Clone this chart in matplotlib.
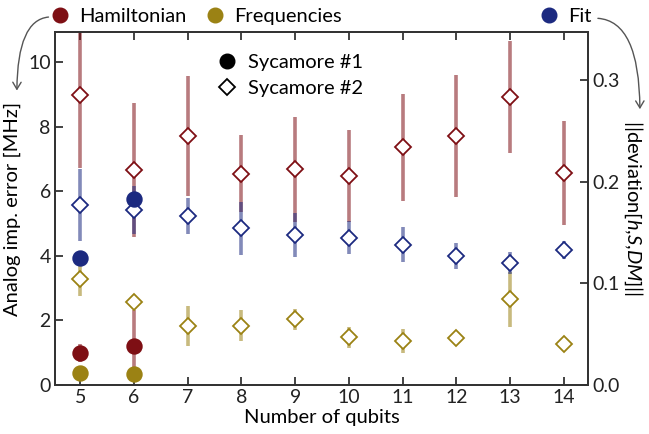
import numpy as np
import matplotlib
matplotlib.use("Agg")
import matplotlib.pyplot as plt
from matplotlib.lines import Line2D
from matplotlib.patches import FancyArrowPatch

plt.rcParams["font.family"] = ["Lato", "DejaVu Sans"]
plt.rcParams["mathtext.fontset"] = "custom"
plt.rcParams["mathtext.it"] = "Lato:italic"
plt.rcParams["mathtext.rm"] = "Lato"

# Sycamore #1 (filled circles)
s1_qubits = [5, 6]
s1_ham = [0.98, 1.22]
s1_ham_err = [0.28, 1.10]
s1_freq = [0.36, 0.33]
s1_freq_err = [0.0, 0.0]
s1_fit = [0.125, 0.183]
s1_fit_err = [0.0, 0.0]

# Sycamore #2 (open diamonds)
s2_qubits = [5, 6, 7, 8, 9, 10, 11, 12, 13, 14]
s2_ham = [8.98, 6.66, 7.72, 6.55, 6.68, 6.47, 7.36, 7.71, 8.93, 6.57]
s2_ham_err = [2.25, 2.08, 1.86, 1.20, 1.62, 1.42, 1.65, 1.90, 1.74, 1.60]
s2_freq = [3.27, 2.56, 1.84, 1.83, 2.03, 1.48, 1.36, 1.45, 2.65, 1.26]
s2_freq_err = [0.50, 0.0, 0.62, 0.48, 0.33, 0.33, 0.38, 0.10, 0.85, 0.0]
s2_fit = [0.177, 0.172, 0.166, 0.154, 0.1475, 0.145, 0.138, 0.127, 0.1197, 0.1327]
s2_fit_err = [0.035, 0.024, 0.018, 0.026, 0.022, 0.016, 0.017, 0.013, 0.011, 0.009]

c_ham = "#7e0f14"
c_freq = "#9b8214"
c_fit = "#1c2a80"
err_alpha = 0.55
fs = 14.5

fig = plt.figure(figsize=(6.49, 4.34), dpi=100)
ax = fig.add_axes([0.0847, 0.113, 0.8213, 0.813])
ax2 = ax.twinx()

circ_ms = 10.5
diam_ms = 8.2


def draw(axis, x, y, err, color, marker, filled):
    axis.errorbar(x, y, yerr=err, fmt="none", ecolor=color, elinewidth=2.6,
                  alpha=err_alpha, capsize=0, zorder=2)
    axis.plot(x, y, linestyle="none", marker=marker,
              ms=circ_ms if marker == "o" else diam_ms,
              mfc=color if filled else "white", mec=color, mew=1.3, zorder=3)


draw(ax, s2_qubits, s2_ham, s2_ham_err, c_ham, "D", False)
draw(ax, s2_qubits, s2_freq, s2_freq_err, c_freq, "D", False)
draw(ax, s1_qubits, s1_ham, s1_ham_err, c_ham, "o", True)
draw(ax, s1_qubits, s1_freq, s1_freq_err, c_freq, "o", True)
draw(ax2, s2_qubits, s2_fit, s2_fit_err, c_fit, "D", False)
draw(ax2, s1_qubits, s1_fit, s1_fit_err, c_fit, "o", True)

ax.set_xlim(4.53, 14.45)
ax.set_ylim(0, 10.93)
ax2.set_ylim(0, 0.347)
ax.set_xticks(s2_qubits)
ax.set_yticks([0, 2, 4, 6, 8, 10])
ax2.set_yticks([0.0, 0.1, 0.2, 0.3])
ax2.set_yticklabels(["0.0", "0.1", "0.2", "0.3"])

for a in (ax, ax2):
    a.tick_params(direction="in", length=6, width=1.2, labelsize=14, colors="#222222",
                  top=True)
    for sp in a.spines.values():
        sp.set_linewidth(1.3)
        sp.set_color("#333333")
ax.tick_params(axis="y", pad=3)
ax2.tick_params(axis="y", pad=3)
ax.tick_params(axis="x", pad=3)

ax.set_xlabel("Number of qubits", fontsize=fs, labelpad=2)
ax.set_ylabel("Analog imp. error [MHz]", fontsize=fs, labelpad=5)
ax2.set_ylabel(r"||deviation[$h$,$S$,$DM$]||", fontsize=fs, rotation=270, labelpad=18)

# series legends above the axes
ham_h = Line2D([], [], ls="none", marker="o", ms=circ_ms, color=c_ham)
freq_h = Line2D([], [], ls="none", marker="o", ms=circ_ms, color=c_freq)
fit_h = Line2D([], [], ls="none", marker="o", ms=circ_ms, color=c_fit)
fig.legend([ham_h, freq_h], ["Hamiltonian", "Frequencies"], loc="center left",
           bbox_to_anchor=(0.077, 0.962), ncol=2, frameon=False, fontsize=fs,
           handlelength=1.0, handletextpad=0.45, columnspacing=0.9, borderpad=0,
           borderaxespad=0)
fig.legend([fit_h], ["Fit"], loc="center right", bbox_to_anchor=(0.912, 0.962),
           frameon=False, fontsize=fs, handlelength=1.0, handletextpad=0.45,
           borderpad=0, borderaxespad=0)

# device legend inside the axes
s1_h = Line2D([], [], ls="none", marker="o", ms=circ_ms, color="black")
s2_h = Line2D([], [], ls="none", marker="D", ms=diam_ms, mfc="white", mec="black", mew=1.3)
ax.legend([s1_h, s2_h], ["Sycamore #1", "Sycamore #2"], loc="upper left",
          bbox_to_anchor=(0.27, 0.99), frameon=False, fontsize=fs,
          handlelength=1.0, handletextpad=0.55, labelspacing=0.45)

# arrows pointing from the legends to the matching axis
fig.add_artist(FancyArrowPatch((0.079, 0.961), (0.026, 0.785), transform=fig.transFigure,
                               connectionstyle="angle3,angleA=180,angleB=90",
                               arrowstyle="->,head_length=5,head_width=3",
                               color="#555555", lw=1.0))
fig.add_artist(FancyArrowPatch((0.917, 0.958), (0.986, 0.742), transform=fig.transFigure,
                               connectionstyle="angle3,angleA=0,angleB=90",
                               arrowstyle="->,head_length=5,head_width=3",
                               color="#555555", lw=1.0))

fig.savefig("out.png", dpi=100)
